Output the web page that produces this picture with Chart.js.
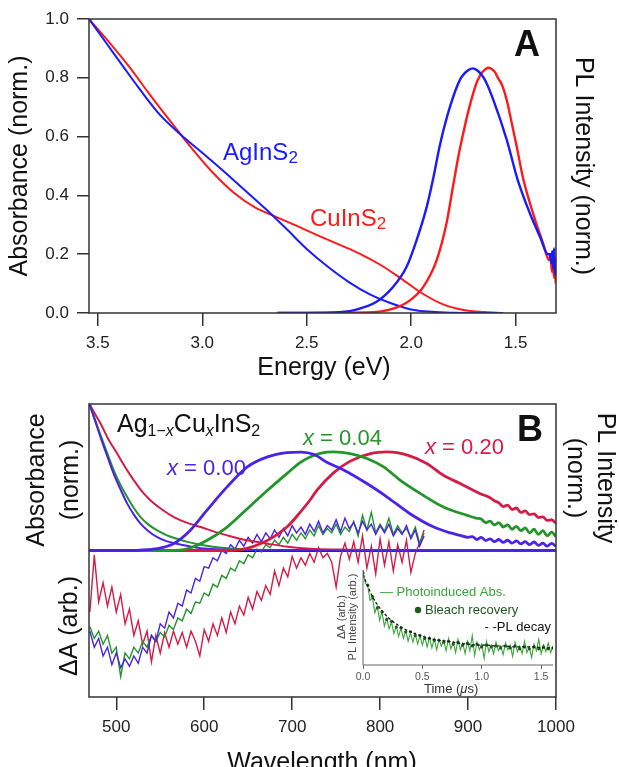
<!DOCTYPE html>
<html>
<head>
<meta charset="utf-8">
<script src="https://cdn.jsdelivr.net/npm/chart.js@4.4.1/dist/chart.umd.min.js"></script>
<style>
html, body { margin: 0; padding: 0; background: #fff; }
#wrap { position: relative; width: 619px; height: 767px; overflow: hidden; }
canvas { position: absolute; left: 0; top: 0; }
</style>
</head>
<body>
<div id="wrap">
  <canvas id="chartA" width="619" height="767"></canvas>
  <canvas id="chartB" width="619" height="767"></canvas>
  <canvas id="chartInset" width="619" height="767"></canvas>
</div>
<script>
// ---------- Panel A: energy (eV) vs normalized absorbance / PL ----------
const energyTicks = [3.5, 3.0, 2.5, 2.0, 1.5];
const absTicks = [0, 0.2, 0.4, 0.6, 0.8, 1.0];

const agAbsE = [3.542, 3.45, 3.378, 3.3, 3.2, 3.1, 3.0, 2.9, 2.8, 2.7, 2.6, 2.5, 2.4, 2.3, 2.2, 2.1, 2.0, 1.9, 1.8, 1.7, 1.56];
const agAbsY = [1.0, 0.909, 0.838, 0.762, 0.672, 0.605, 0.545, 0.484, 0.42, 0.356, 0.288, 0.218, 0.158, 0.106, 0.064, 0.034, 0.012, 0.004, 0.001, 0.0, 0.0];
const cuAbsE = [3.542, 3.45, 3.35, 3.25, 3.15, 3.05, 2.95, 2.85, 2.75, 2.65, 2.55, 2.45, 2.35, 2.25, 2.15, 2.05, 1.95, 1.85, 1.75, 1.65, 1.56];
const cuAbsY = [1.0, 0.925, 0.838, 0.742, 0.65, 0.56, 0.478, 0.41, 0.36, 0.328, 0.297, 0.265, 0.234, 0.203, 0.165, 0.118, 0.068, 0.03, 0.01, 0.003, 0.0];

const agPlE = [2.64, 2.373, 2.277, 2.166, 2.086, 2.022, 1.974, 1.926, 1.894, 1.863, 1.815, 1.767, 1.745, 1.725, 1.705, 1.685, 1.665, 1.645, 1.607, 1.543, 1.49, 1.432, 1.384, 1.345, 1.336, 1.33, 1.325, 1.32, 1.316, 1.312, 1.309];
const agPlY = [0, 0.002, 0.009, 0.038, 0.089, 0.157, 0.248, 0.36, 0.46, 0.57, 0.70, 0.793, 0.815, 0.827, 0.832, 0.826, 0.812, 0.79, 0.725, 0.59, 0.452, 0.339, 0.26, 0.20, 0.20, 0.17, 0.21, 0.15, 0.22, 0.13, 0.19];
const cuPlE = [2.64, 2.213, 2.086, 2.006, 1.942, 1.878, 1.831, 1.80, 1.775, 1.751, 1.727, 1.703, 1.683, 1.663, 1.647, 1.631, 1.615, 1.6, 1.585, 1.565, 1.543, 1.52, 1.496, 1.465, 1.417, 1.369, 1.34, 1.333, 1.327, 1.321, 1.316, 1.312, 1.308];
const cuPlY = [0, 0.002, 0.015, 0.043, 0.089, 0.18, 0.305, 0.43, 0.53, 0.611, 0.685, 0.748, 0.79, 0.816, 0.828, 0.834, 0.83, 0.82, 0.80, 0.775, 0.725, 0.65, 0.57, 0.46, 0.339, 0.237, 0.18, 0.2, 0.14, 0.17, 0.12, 0.16, 0.1];

// ---------- Panel B: wavelength (nm) ----------
const wlTicks = [500, 600, 700, 800, 900, 1000];

const abs000Wl = [469.6, 476, 482, 490, 497, 505, 512.5, 520, 527.6, 537, 546.6, 557, 569, 582, 596, 615, 634, 680, 1000];
const abs000 = [1.0, 0.885, 0.776, 0.64, 0.525, 0.415, 0.32, 0.245, 0.183, 0.13, 0.091, 0.064, 0.046, 0.03, 0.016, 0.008, 0.005, 0.0, 0.0];
const abs004Wl = [469.6, 476, 482, 490, 497, 505, 512.5, 520, 527.6, 537, 546.6, 557, 569, 582, 596, 610, 626, 645, 671, 1000];
const abs004 = [1.0, 0.89, 0.79, 0.66, 0.548, 0.445, 0.365, 0.29, 0.228, 0.175, 0.137, 0.105, 0.08, 0.057, 0.039, 0.026, 0.016, 0.008, 0.002, 0.0];
const abs020Wl = [469.6, 476, 482, 491, 501, 510, 520, 529, 539, 552, 565.5, 580, 596, 615, 634, 652, 672, 695, 721, 750, 780, 1000];
const abs020 = [1.0, 0.93, 0.868, 0.76, 0.662, 0.57, 0.479, 0.405, 0.342, 0.28, 0.228, 0.19, 0.16, 0.122, 0.091, 0.066, 0.046, 0.026, 0.012, 0.006, 0.003, 0.0];

const pl000Wl = [469, 520, 540, 546.6, 565, 584, 603, 626, 649, 672, 694, 710, 725, 740, 759, 785, 808, 834, 861, 880, 891, 900, 905, 910, 915, 920, 925, 930, 935, 940, 945, 950, 955, 960, 965, 970, 975, 980, 985, 990, 995, 1000];
const pl000 = [0, 0, 0.008, 0.012, 0.046, 0.137, 0.274, 0.434, 0.571, 0.639, 0.668, 0.672, 0.655, 0.6, 0.548, 0.457, 0.365, 0.251, 0.16, 0.12, 0.103, 0.09, 0.095, 0.075, 0.09, 0.068, 0.08, 0.06, 0.075, 0.055, 0.07, 0.05, 0.066, 0.045, 0.06, 0.04, 0.058, 0.035, 0.05, 0.03, 0.048, 0.028];
const pl004Wl = [469, 560, 581, 603, 626, 649, 672, 694, 709, 721, 733, 747, 766, 785, 804, 823, 846, 872, 899, 910, 915, 920, 925, 930, 935, 940, 945, 950, 955, 960, 965, 970, 975, 980, 985, 990, 995, 1000];
const pl004 = [0, 0, 0.012, 0.068, 0.16, 0.285, 0.411, 0.525, 0.6, 0.64, 0.665, 0.673, 0.662, 0.628, 0.571, 0.479, 0.388, 0.297, 0.24, 0.22, 0.215, 0.19, 0.2, 0.175, 0.19, 0.16, 0.175, 0.145, 0.165, 0.135, 0.155, 0.12, 0.145, 0.11, 0.135, 0.1, 0.125, 0.095];
const pl020Wl = [469, 630, 664, 694, 709, 721, 728, 747, 766, 789, 808, 831, 853, 872, 891, 914, 925, 930, 935, 940, 945, 950, 955, 960, 965, 970, 975, 980, 985, 990, 995, 1000];
const pl020 = [0, 0, 0.046, 0.16, 0.26, 0.35, 0.41, 0.53, 0.61, 0.662, 0.673, 0.651, 0.594, 0.514, 0.457, 0.388, 0.36, 0.34, 0.325, 0.30, 0.31, 0.28, 0.29, 0.26, 0.27, 0.245, 0.25, 0.225, 0.23, 0.205, 0.21, 0.185];

// transient absorption (lower half)
const dAWl = [470, 475, 480, 485, 490, 495, 500, 505, 510, 515, 520, 525, 530, 535, 540, 545, 550, 555, 560, 565,
  570, 575, 580, 585, 590, 595, 600, 605, 610, 615, 620, 625, 630, 635, 640, 645, 650, 655, 660, 665,
  670, 675, 680, 685, 690, 695, 700, 705, 710, 715, 720, 725, 730, 735, 740, 745, 750, 755, 760, 765,
  770, 775, 780, 785, 790, 795, 800, 805, 810, 815, 820, 825, 830, 835, 840, 845, 850];
const dA000 = [-0.55, -0.66, -0.60, -0.72, -0.66, -0.78, -0.70, -0.80, -0.74, -0.79,
  -0.72, -0.77, -0.66, -0.70, -0.58, -0.62, -0.50, -0.53, -0.42, -0.46,
  -0.36, -0.38, -0.27, -0.29, -0.19, -0.21, -0.11, -0.12, -0.05, -0.07,
  0.00, -0.02, 0.04, 0.01, 0.07, 0.03, 0.09, 0.05, 0.11, 0.06,
  0.12, 0.08, 0.14, 0.09, 0.15, 0.10, 0.17, 0.12, 0.16, 0.11,
  0.18, 0.13, 0.20, 0.12, 0.17, 0.14, 0.21, 0.13, 0.22, 0.15,
  0.19, 0.12, 0.20, 0.14, 0.18, 0.11, 0.17, 0.12, 0.18, 0.10,
  0.15, 0.11, 0.17, 0.08, 0.14, 0.03, 0.10];
const dA004 = [-0.52, -0.60, -0.55, -0.64, -0.58, -0.70, -0.66, -0.86, -0.70, -0.74,
  -0.66, -0.70, -0.62, -0.66, -0.58, -0.62, -0.56, -0.59, -0.51, -0.54,
  -0.46, -0.48, -0.40, -0.43, -0.35, -0.36, -0.29, -0.31, -0.23, -0.25,
  -0.17, -0.19, -0.12, -0.14, -0.07, -0.09, -0.03, -0.05, 0.01, -0.01,
  0.04, 0.02, 0.07, 0.04, 0.09, 0.05, 0.11, 0.07, 0.12, 0.08,
  0.14, 0.10, 0.17, 0.11, 0.15, 0.12, 0.18, 0.11, 0.16, 0.13,
  0.20, 0.10, 0.24, 0.14, 0.26, 0.12, 0.18, 0.13, 0.22, 0.11,
  0.17, 0.12, 0.15, 0.09, 0.16, 0.05, 0.12];
const dA020 = [-0.42, -0.03, -0.35, -0.22, -0.38, -0.25, -0.42, -0.30, -0.50, -0.40,
  -0.58, -0.48, -0.64, -0.55, -0.76, -0.58, -0.70, -0.56, -0.66, -0.55,
  -0.64, -0.56, -0.66, -0.55, -0.62, -0.72, -0.54, -0.62, -0.50, -0.58,
  -0.46, -0.56, -0.42, -0.50, -0.38, -0.44, -0.32, -0.40, -0.28, -0.34,
  -0.24, -0.30, -0.14, -0.24, -0.12, -0.18, -0.04, -0.12, -0.05, -0.10,
  -0.02, -0.08, 0.02, -0.05, -0.02, -0.08, -0.25, -0.04, 0.05, -0.06,
  0.06, -0.08, 0.10, -0.12, 0.03, -0.16, 0.08, -0.10, 0.06, -0.14,
  0.04, -0.08, 0.07, -0.15, -0.02, 0.05, 0.14];
const zeroWl = [469, 1000];
const zeroY = [0, 0];

// ---------- Inset: kinetics ----------
const timeTicks = [0, 0.5, 1.0, 1.5];
const paTime = [0, 0.02, 0.04, 0.06, 0.08, 0.1, 0.12, 0.14, 0.16, 0.18, 0.2, 0.22, 0.24, 0.26, 0.28, 0.3, 0.32, 0.34, 0.36, 0.38,
  0.4, 0.42, 0.44, 0.46, 0.48, 0.5, 0.52, 0.54, 0.56, 0.58, 0.6, 0.62, 0.64, 0.66, 0.68, 0.7, 0.72, 0.74, 0.76, 0.78,
  0.8, 0.82, 0.84, 0.86, 0.88, 0.9, 0.92, 0.94, 0.96, 0.98, 1.0, 1.02, 1.04, 1.06, 1.08, 1.1, 1.12, 1.14, 1.16, 1.18,
  1.2, 1.22, 1.24, 1.26, 1.28, 1.3, 1.32, 1.34, 1.36, 1.38, 1.4, 1.42, 1.44, 1.46, 1.48, 1.5, 1.52, 1.54, 1.56, 1.58, 1.6];
const paSignal = [1.00, 0.86, 0.83, 0.68, 0.71, 0.55, 0.62, 0.47, 0.56, 0.41, 0.49, 0.38, 0.45, 0.33, 0.41, 0.30, 0.39, 0.28, 0.36, 0.25,
  0.34, 0.24, 0.33, 0.22, 0.31, 0.21, 0.30, 0.19, 0.29, 0.18, 0.28, 0.16, 0.27, 0.20, 0.26, 0.15, 0.28, 0.17, 0.24, 0.13,
  0.27, 0.16, 0.23, 0.12, 0.25, 0.15, 0.31, 0.10, 0.24, 0.16, 0.22, 0.07, 0.25, 0.14, 0.21, 0.12, 0.24, 0.15, 0.20, 0.11,
  0.23, 0.16, 0.21, 0.09, 0.24, 0.14, 0.20, 0.12, 0.25, 0.13, 0.19, 0.08, 0.22, 0.15, 0.27, 0.12, 0.21, 0.14, 0.23, 0.13, 0.20];
const bleachTime = [0, 0.04, 0.08, 0.12, 0.16, 0.2, 0.24, 0.28, 0.32, 0.36, 0.4, 0.44, 0.48, 0.52, 0.56, 0.6, 0.64, 0.68, 0.72, 0.76,
  0.8, 0.84, 0.88, 0.92, 0.96, 1.0, 1.04, 1.08, 1.12, 1.16, 1.2, 1.24, 1.28, 1.32, 1.36, 1.4, 1.44, 1.48, 1.52, 1.56, 1.6];
const bleachSignal = [0.97, 0.84, 0.72, 0.60, 0.56, 0.48, 0.46, 0.40, 0.39, 0.35, 0.35, 0.31, 0.31, 0.28, 0.28, 0.26, 0.26, 0.24, 0.25, 0.22,
  0.24, 0.21, 0.23, 0.20, 0.22, 0.19, 0.21, 0.19, 0.20, 0.18, 0.20, 0.18, 0.20, 0.17, 0.19, 0.17, 0.19, 0.17, 0.19, 0.17, 0.18];
const plTime = [0, 0.08, 0.16, 0.24, 0.32, 0.4, 0.48, 0.56, 0.64, 0.72, 0.8, 0.88, 0.96, 1.04, 1.12, 1.2, 1.28, 1.36, 1.44, 1.52, 1.6];
const plSignal = [0.95, 0.72, 0.57, 0.47, 0.40, 0.35, 0.31, 0.28, 0.26, 0.25, 0.23, 0.22, 0.21, 0.21, 0.20, 0.20, 0.19, 0.19, 0.19, 0.18, 0.18];

// ---------- styling ----------
const FONT = "'Liberation Sans', Arial, Helvetica, sans-serif";
const C_AG = '#1a1aff';
const C_CU = '#ff1a1a';
const C000 = '#4a22e8';
const C004 = '#23952a';
const C020 = '#d41c46';
const C_PA = '#3aa63a';
const C_BLEACH = '#1e5a1e';
const AXIS = '#333';

function pts(xs, ys) {
  return xs.map((x, i) => ({ x: x, y: ys[i] }));
}

function line(xs, ys, color, width, extra) {
  return Object.assign({
    data: pts(xs, ys),
    borderColor: color,
    backgroundColor: color,
    borderWidth: width,
    pointRadius: 0,
    fill: false,
    cubicInterpolationMode: 'monotone'
  }, extra || {});
}

function fixTicks(values) {
  return function(scale) { scale.ticks = values.map(v => ({ value: v })); };
}

// draw text; parts lets us do sub-scripts / italics
function rich(ctx, parts, x, y, color) {
  let cx = x;
  ctx.save();
  ctx.fillStyle = color;
  ctx.textBaseline = 'alphabetic';
  ctx.textAlign = 'left';
  parts.forEach(p => {
    ctx.font = (p.it ? 'italic ' : '') + (p.b ? 'bold ' : '') + p.s + 'px ' + FONT;
    ctx.fillText(p.t, cx, y + (p.dy || 0));
    cx += ctx.measureText(p.t).width;
  });
  ctx.restore();
}

function text(ctx, s, x, y, size, opts) {
  opts = opts || {};
  ctx.save();
  ctx.font = (opts.bold ? 'bold ' : '') + size + 'px ' + FONT;
  ctx.fillStyle = opts.color || '#111';
  ctx.textAlign = opts.align || 'center';
  ctx.textBaseline = opts.base || 'middle';
  ctx.translate(x, y);
  if (opts.rot) ctx.rotate(opts.rot);
  ctx.fillText(s, 0, 0);
  ctx.restore();
}

// box / axis lines around the plot area
const framePlugin = {
  id: 'frame',
  afterDatasetsDraw(chart, args, opts) {
    const a = chart.chartArea;
    const ctx = chart.ctx;
    ctx.save();
    ctx.strokeStyle = opts.color;
    ctx.lineWidth = opts.width;
    ctx.beginPath();
    if (opts.full) {
      ctx.rect(a.left, a.top, a.right - a.left, a.bottom - a.top);
    } else {
      ctx.moveTo(a.left, a.top);
      ctx.lineTo(a.left, a.bottom);
      ctx.lineTo(a.right, a.bottom);
    }
    ctx.stroke();
    ctx.restore();
  }
};

function xAxis(min, max, ticks, opts) {
  return {
    type: 'linear',
    min: min,
    max: max,
    reverse: !!opts.reverse,
    afterBuildTicks: fixTicks(ticks),
    afterFit: s => { s.height = opts.height; },
    border: { display: false },
    grid: { display: true, drawOnChartArea: false, drawTicks: true, tickLength: opts.tickLength, color: opts.color, lineWidth: opts.lineWidth },
    ticks: {
      font: { family: FONT, size: opts.size },
      color: opts.labelColor,
      padding: opts.padding,
      maxRotation: 0,
      autoSkip: false,
      callback: v => opts.fmt(v)
    }
  };
}

const common = {
  responsive: false,
  animation: false,
  events: [],
  plugins: { legend: { display: false }, tooltip: { enabled: false } }
};

// ---------- Chart A ----------
new Chart(document.getElementById('chartA'), {
  type: 'line',
  data: {
    datasets: [
      line(agPlE, agPlY, C_AG, 2.4),
      line(cuPlE, cuPlY, C_CU, 2.4),
      line(agAbsE, agAbsY, C_AG, 2),
      line(cuAbsE, cuAbsY, C_CU, 2)
    ]
  },
  options: Object.assign({}, common, {
    layout: { padding: { top: 19, right: 63, bottom: 394, left: 0 } },
    scales: {
      x: xAxis(1.307, 3.542, energyTicks, {
        reverse: true, height: 60, tickLength: 13, color: AXIS, lineWidth: 1.5,
        size: 17, labelColor: '#222', padding: 7, fmt: v => v.toFixed(1)
      }),
      y: {
        min: 0, max: 1,
        afterBuildTicks: fixTicks(absTicks),
        afterFit: s => { s.width = 89; },
        border: { display: false },
        grid: { display: true, drawOnChartArea: false, drawTicks: true, tickLength: 12, color: AXIS, lineWidth: 1.5 },
        ticks: { font: { family: FONT, size: 17 }, color: '#222', padding: 8, callback: v => v.toFixed(1) }
      }
    },
    plugins: Object.assign({}, common.plugins, { frame: { color: AXIS, width: 1.5, full: true } })
  }),
  plugins: [framePlugin, {
    id: 'labelsA',
    afterDraw(chart) {
      const ctx = chart.ctx;
      text(ctx, 'Absorbance (norm.)', 20, 166, 25, { rot: -Math.PI / 2 });
      text(ctx, 'PL Intensity (norm.)', 583, 166, 25, { rot: Math.PI / 2 });
      text(ctx, 'Energy (eV)', 324, 375, 25, { base: 'alphabetic' });
      text(ctx, 'A', 527, 46, 36, { bold: true });
      rich(ctx, [{ t: 'AgInS', s: 24 }, { t: '2', s: 17, dy: 3 }], 223, 160, C_AG);
      rich(ctx, [{ t: 'CuInS', s: 24 }, { t: '2', s: 17, dy: 3 }], 310, 226, C_CU);
    }
  }]
});

// ---------- Chart B ----------
new Chart(document.getElementById('chartB'), {
  type: 'line',
  data: {
    datasets: [
      line(pl000Wl, pl000, C000, 2.8),
      line(pl004Wl, pl004, C004, 2.8),
      line(pl020Wl, pl020, C020, 2.8),
      line(abs000Wl, abs000, C000, 2),
      line(abs004Wl, abs004, C004, 2),
      line(abs020Wl, abs020, C020, 2),
      line(dAWl, dA000, C000, 1.4, { cubicInterpolationMode: 'default', tension: 0 }),
      line(dAWl, dA004, C004, 1.4, { cubicInterpolationMode: 'default', tension: 0 }),
      line(dAWl, dA020, C020, 1.4, { cubicInterpolationMode: 'default', tension: 0 }),
      line(zeroWl, zeroY, '#000', 3, { cubicInterpolationMode: 'default', tension: 0 })
    ]
  },
  options: Object.assign({}, common, {
    layout: { padding: { top: 404, right: 63, bottom: 10, left: 89 } },
    scales: {
      x: xAxis(469, 1000, wlTicks, {
        height: 60, tickLength: 13, color: AXIS, lineWidth: 1.5,
        size: 17, labelColor: '#222', padding: 7, fmt: v => String(v)
      }),
      y: { display: false, min: -1, max: 1 }
    },
    plugins: Object.assign({}, common.plugins, { frame: { color: AXIS, width: 1.5, full: true } })
  }),
  plugins: [framePlugin, {
    id: 'labelsB',
    afterDraw(chart) {
      const ctx = chart.ctx;
      text(ctx, 'Absorbance', 37, 480, 25, { rot: -Math.PI / 2 });
      text(ctx, '(norm.)', 71, 480, 25, { rot: -Math.PI / 2 });
      text(ctx, '\u0394A (arb.)', 70, 626, 25, { rot: -Math.PI / 2 });
      text(ctx, 'PL Intensity', 605, 478, 25, { rot: Math.PI / 2 });
      text(ctx, '(norm.)', 575, 478, 25, { rot: Math.PI / 2 });
      text(ctx, 'Wavelength (nm)', 322, 770, 25, { base: 'alphabetic' });
      text(ctx, 'B', 530, 431, 36, { bold: true });
      rich(ctx, [
        { t: 'Ag', s: 25 }, { t: '1\u2212', s: 16, dy: 4 }, { t: 'x', s: 16, dy: 4, it: true },
        { t: 'Cu', s: 25 }, { t: 'x', s: 16, dy: 4, it: true }, { t: 'InS', s: 25 }, { t: '2', s: 16, dy: 4 }
      ], 117, 432, '#111');
      rich(ctx, [{ t: 'x', s: 22, it: true }, { t: ' = 0.00', s: 22 }], 167, 475, C000);
      rich(ctx, [{ t: 'x', s: 22, it: true }, { t: ' = 0.04', s: 22 }], 303, 445, C004);
      rich(ctx, [{ t: 'x', s: 22, it: true }, { t: ' = 0.20', s: 22 }], 425, 454, C020);
    }
  }]
});

// ---------- Inset ----------
new Chart(document.getElementById('chartInset'), {
  type: 'line',
  data: {
    datasets: [
      line(plTime, plSignal, '#111', 1.2, { borderDash: [3, 2] }),
      line(bleachTime, bleachSignal, C_BLEACH, 0, { showLine: false, pointRadius: 1.6, pointBorderWidth: 0 }),
      line(paTime, paSignal, C_PA, 1.1, { cubicInterpolationMode: 'default', tension: 0 })
    ]
  },
  options: Object.assign({}, common, {
    layout: { padding: { top: 570, right: 66, bottom: 72, left: 363 } },
    scales: {
      x: xAxis(0, 1.6, timeTicks, {
        height: 30, tickLength: 4, color: '#666', lineWidth: 1,
        size: 10.5, labelColor: '#555', padding: 2, fmt: v => v.toFixed(1)
      }),
      y: { display: false, min: 0, max: 1 }
    },
    plugins: Object.assign({}, common.plugins, { frame: { color: '#666', width: 1, full: false } })
  }),
  plugins: [framePlugin, {
    id: 'labelsInset',
    afterDraw(chart) {
      const ctx = chart.ctx;
      text(ctx, '\u0394A (arb.)', 342, 617, 11, { rot: -Math.PI / 2, color: '#444' });
      text(ctx, 'PL Intensity (arb.)', 353, 617, 11, { rot: -Math.PI / 2, color: '#444' });
      rich(ctx, [{ t: 'Time (', s: 13 }, { t: '\u03bc', s: 13, it: true }, { t: 's)', s: 13 }], 424, 693, '#333');
      text(ctx, '\u2014 Photoinduced Abs.', 380, 592, 13, { align: 'left', color: C_PA });
      ctx.save();
      ctx.fillStyle = C_BLEACH;
      ctx.beginPath();
      ctx.arc(418, 610, 3.2, 0, Math.PI * 2);
      ctx.fill();
      ctx.restore();
      text(ctx, 'Bleach recovery', 425, 610, 13, { align: 'left', color: C_BLEACH });
      text(ctx, '- -PL decay', 551, 627, 13, { align: 'right', color: '#111' });
    }
  }]
});
</script>
</body>
</html>
